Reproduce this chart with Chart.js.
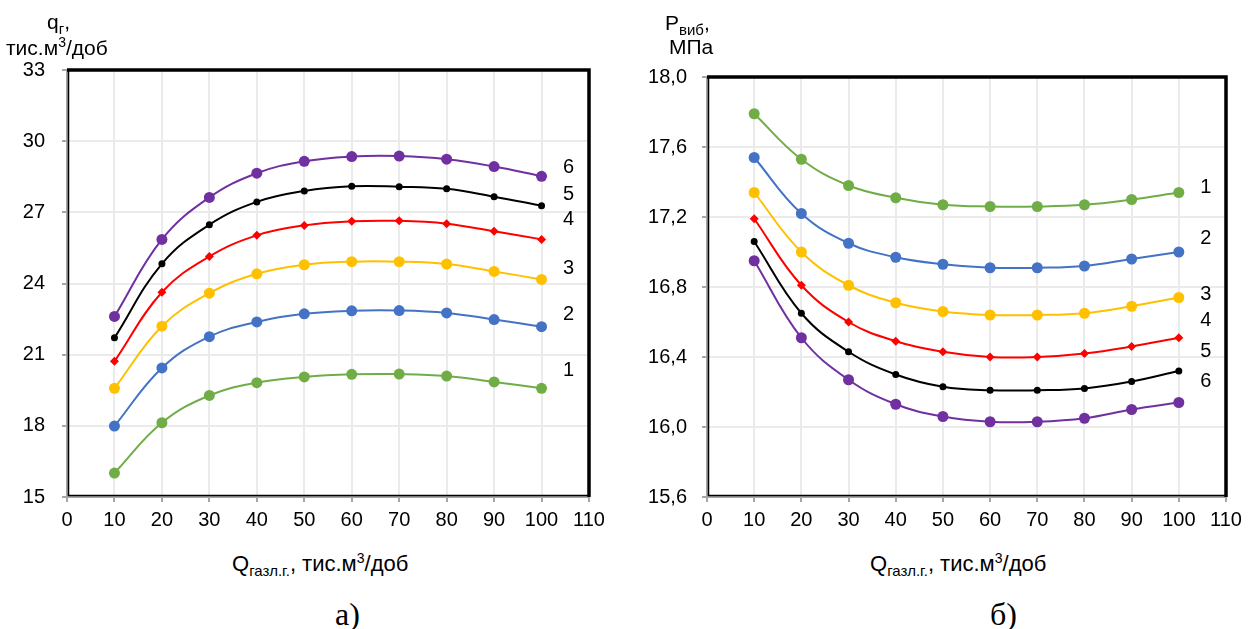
<!DOCTYPE html>
<html>
<head>
<meta charset="utf-8">
<script src="https://cdn.jsdelivr.net/npm/chart.js@4.4.0/dist/chart.umd.min.js"></script>
<style>
    body { margin: 0; width: 1255px; height: 629px; background: #fff; position: relative; overflow: hidden;
           font-family: 'Liberation Sans', Arial, sans-serif; color: #000; }
    .box { position: absolute; top: 0; height: 540px; }
    #boxA { left: 0; width: 620px; }
    #boxB { left: 630px; width: 625px; }
    .t { position: absolute; font-size: 21px; white-space: nowrap; line-height: 1; }
    .t sub { font-size: 15px; vertical-align: -5px; }
    .t sup { font-size: 14px; vertical-align: 8px; }
    .cap { position: absolute; font-family: 'Liberation Serif', 'Times New Roman', serif; font-size: 32px; line-height: 1; }
</style>
</head>
<body>
<div class="box" id="boxA"><canvas id="chartA"></canvas></div>
<div class="box" id="boxB"><canvas id="chartB"></canvas></div>

<div class="t" style="left:47px;top:11px;">q<sub>г</sub>,</div>
<div class="t" style="left:6px;top:35px;">тис.м<sup>3</sup>/доб</div>
<div class="t" style="left:665px;top:12px;">P<sub>виб</sub>,</div>
<div class="t" style="left:669px;top:36px;">МПа</div>
<div class="t" style="left:232px;top:551px;font-size:22px;">Q<sub>газл.г.</sub>, тис.м<sup>3</sup>/доб</div>
<div class="t" style="left:870px;top:551px;font-size:22px;">Q<sub>газл.г.</sub>, тис.м<sup>3</sup>/доб</div>
<div class="cap" style="left:335px;top:598px;">а)</div>
<div class="cap" style="left:990px;top:598px;">б)</div>

<script>
const xVals = [10, 20, 30, 40, 50, 60, 70, 80, 90, 100];

// а) q_г
const qCurve1 = [16.01, 18.13, 19.28, 19.82, 20.06, 20.17, 20.18, 20.10, 19.85, 19.58];
const qCurve2 = [17.99, 20.44, 21.76, 22.38, 22.72, 22.85, 22.86, 22.76, 22.48, 22.18];
const qCurve3 = [19.58, 22.20, 23.59, 24.41, 24.79, 24.92, 24.92, 24.82, 24.51, 24.17];
const qCurve4 = [20.72, 23.63, 25.14, 26.03, 26.45, 26.62, 26.64, 26.52, 26.20, 25.86];
const qCurve5 = [21.71, 24.83, 26.48, 27.44, 27.90, 28.10, 28.08, 27.99, 27.66, 27.28];
const qCurve6 = [22.61, 25.86, 27.63, 28.65, 29.15, 29.35, 29.37, 29.24, 28.93, 28.52];

// б) P_виб
const pCurve1 = [17.79, 17.53, 17.38, 17.31, 17.27, 17.26, 17.26, 17.27, 17.30, 17.34];
const pCurve2 = [17.54, 17.22, 17.05, 16.97, 16.93, 16.91, 16.91, 16.92, 16.96, 17.00];
const pCurve3 = [17.34, 17.00, 16.81, 16.71, 16.66, 16.64, 16.64, 16.65, 16.69, 16.74];
const pCurve4 = [17.19, 16.81, 16.60, 16.49, 16.43, 16.40, 16.40, 16.42, 16.46, 16.51];
const pCurve5 = [17.06, 16.65, 16.43, 16.30, 16.23, 16.21, 16.21, 16.22, 16.26, 16.32];
const pCurve6 = [16.95, 16.51, 16.27, 16.13, 16.06, 16.03, 16.03, 16.05, 16.10, 16.14];

const curveNames = ['1', '2', '3', '4', '5', '6'];
const qNameY = [20.32, 22.69, 24.63, 26.70, 27.76, 28.90];
const pNameY = [17.37, 17.08, 16.76, 16.61, 16.43, 16.26];
const nameX = 105.7;

const curveColors = ['#70AD47', '#4472C4', '#FFC000', '#FF0000', '#000000', '#7030A0'];
const curveMarkers = ['circle', 'circle', 'circle', 'rectRot', 'circle', 'circle'];
const curveRadius = [5.5, 5.5, 5.5, 4.5, 3.5, 5.5];

const FONT = { family: "'Liberation Sans', Arial, sans-serif", size: 20 };

function toPoints(values) {
    return values.map((v, i) => ({ x: xVals[i], y: v }));
}

function makeDatasets(curves) {
    return curves.map((values, i) => ({
        label: curveNames[i],
        data: toPoints(values),
        borderColor: curveColors[i],
        backgroundColor: curveColors[i],
        pointStyle: curveMarkers[i],
        pointRadius: curveRadius[i],
        pointBorderWidth: 0,
        borderWidth: 2,
        tension: 0.4
    }));
}

const framePlugin = {
    id: 'frame',
    afterDraw(chart) {
        const { ctx, chartArea: a } = chart;
        ctx.save();
        ctx.strokeStyle = '#000';
        ctx.lineWidth = 1.5;
        ctx.beginPath();
        ctx.moveTo(a.left + 1.5, a.top);
        ctx.lineTo(a.left + 1.5, a.bottom - 1.5);
        ctx.lineTo(a.right, a.bottom - 1.5);
        ctx.stroke();
        ctx.lineWidth = 3.5;
        ctx.beginPath();
        ctx.moveTo(a.left, a.top);
        ctx.lineTo(a.right, a.top);
        ctx.lineTo(a.right, a.bottom);
        ctx.stroke();
        ctx.restore();
    }
};

const curveNamePlugin = {
    id: 'curveNames',
    afterDatasetsDraw(chart, args, opts) {
        const { ctx, scales } = chart;
        ctx.save();
        ctx.fillStyle = '#000';
        ctx.font = FONT.size + 'px ' + FONT.family;
        ctx.textAlign = 'center';
        ctx.textBaseline = 'middle';
        opts.values.forEach((v, i) => {
            ctx.fillText(curveNames[i], scales.x.getPixelForValue(nameX), scales.y.getPixelForValue(v));
        });
        ctx.restore();
    }
};

function makeChart(id, curves, cfg) {
    return new Chart(document.getElementById(id), {
        type: 'line',
        data: { datasets: makeDatasets(curves) },
        options: {
            responsive: true,
            maintainAspectRatio: false,
            animation: false,
            layout: { padding: { left: 0, top: cfg.top, right: cfg.padRight, bottom: 0 } },
            plugins: {
                legend: { display: false },
                tooltip: { enabled: false },
                curveNames: { values: cfg.nameValues }
            },
            scales: {
                x: {
                    type: 'linear',
                    min: 0,
                    max: 110,
                    ticks: { stepSize: 10, color: '#000', font: FONT, padding: 6, maxRotation: 0 },
                    grid: { color: '#ebebeb', lineWidth: 2, tickLength: 5, tickColor: '#a6a6a6' },
                    border: { color: '#a6a6a6', width: 2 },
                    afterFit: (s) => { s.height = 43; }
                },
                y: {
                    min: cfg.min,
                    max: cfg.max,
                    ticks: { stepSize: cfg.step, color: '#000', font: FONT, padding: cfg.labelPad, callback: cfg.fmt },
                    grid: { color: '#ebebeb', lineWidth: 2, tickLength: 5, tickColor: '#a6a6a6' },
                    border: { color: '#a6a6a6', width: 2 },
                    afterFit: (s) => { s.width = cfg.axisW; }
                }
            }
        },
        plugins: [framePlugin, curveNamePlugin]
    });
}

makeChart('chartA', [qCurve1, qCurve2, qCurve3, qCurve4, qCurve5, qCurve6], {
    min: 15, max: 33, step: 3, top: 70, padRight: 31, axisW: 67, labelPad: 17,
    nameValues: qNameY,
    fmt: (v) => String(v)
});

makeChart('chartB', [pCurve1, pCurve2, pCurve3, pCurve4, pCurve5, pCurve6], {
    min: 15.6, max: 18.0, step: 0.4, top: 77, padRight: 29, axisW: 77, labelPad: 15,
    nameValues: pNameY,
    fmt: (v) => v.toFixed(1).replace('.', ',')
});
</script>
</body>
</html>
